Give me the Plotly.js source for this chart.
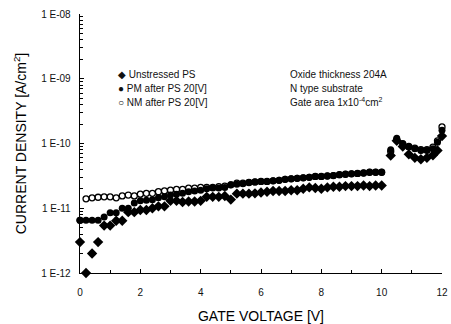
<!DOCTYPE html>
<html>
<head>
<meta charset="utf-8">
<script src="https://cdn.plot.ly/plotly-3.0.1.min.js"></script>
<style>html,body{margin:0;padding:0;background:#fff;}#chart{width:451px;height:324px;}</style>
</head>
<body>
<div id="chart"></div>
<script>
// Gate voltage steps (V)
var voltageLow = [0,0.2,0.4,0.6,0.8,1.0,1.2,1.4,1.6,1.8,2.0,2.2,2.4,2.6,2.8,3.0,3.2,3.4,3.6,3.8,4.0,4.2,4.4,4.6,4.8,5.0,5.2,5.4,5.6,5.8,6.0,6.2,6.4,6.6,6.8,7.0,7.2,7.4,7.6,7.8,8.0,8.2,8.4,8.6,8.8,9.0,9.2,9.4,9.6,9.8,10.0];
var voltageHigh = [10.3,10.5,10.7,10.9,11.1,11.3,11.5,11.7,11.85,12.0];

// Current density (A/cm^2)
var unstressedLow = [3.0e-12,1.0e-12,2.0e-12,3.0e-12,5.4e-12,5.4e-12,6.4e-12,6.4e-12,8.7e-12,8.7e-12,9.4e-12,9.4e-12,1.0e-11,1.07e-11,1.07e-11,1.3e-11,1.3e-11,1.25e-11,1.27e-11,1.27e-11,1.3e-11,1.5e-11,1.5e-11,1.5e-11,1.55e-11,1.36e-11,1.68e-11,1.68e-11,1.68e-11,1.7e-11,1.75e-11,1.8e-11,1.85e-11,1.85e-11,1.85e-11,1.9e-11,1.9e-11,2.0e-11,2.1e-11,2.05e-11,2.0e-11,2.1e-11,2.15e-11,2.15e-11,2.2e-11,2.2e-11,2.2e-11,2.25e-11,2.2e-11,2.25e-11,2.25e-11];
var unstressedHigh = [6.5e-11,1.1e-10,9.0e-11,6.8e-11,6.0e-11,5.7e-11,6.0e-11,6.6e-11,7.8e-11,1.3e-10];

var pmLow = [6.5e-12,6.5e-12,6.5e-12,6.5e-12,7.3e-12,8.5e-12,8.5e-12,1.0e-11,1.0e-11,1.2e-11,1.3e-11,1.33e-11,1.35e-11,1.45e-11,1.5e-11,1.6e-11,1.65e-11,1.7e-11,1.8e-11,1.85e-11,1.9e-11,2.0e-11,2.05e-11,2.05e-11,2.1e-11,2.3e-11,2.35e-11,2.4e-11,2.5e-11,2.55e-11,2.6e-11,2.6e-11,2.65e-11,2.7e-11,2.8e-11,2.85e-11,2.9e-11,2.95e-11,3.0e-11,3.1e-11,3.1e-11,3.15e-11,3.2e-11,3.3e-11,3.35e-11,3.4e-11,3.45e-11,3.5e-11,3.6e-11,3.6e-11,3.6e-11];
var pmHigh = [8.0e-11,1.2e-10,1.0e-10,8.8e-11,8.3e-11,7.8e-11,7.8e-11,8.3e-11,1.05e-10,1.6e-10];

var nmLow = [6.5e-12,1.4e-11,1.45e-11,1.48e-11,1.5e-11,1.5e-11,1.45e-11,1.55e-11,1.6e-11,1.55e-11,1.65e-11,1.7e-11,1.7e-11,1.8e-11,1.85e-11,1.9e-11,1.95e-11,1.95e-11,2.05e-11,2.05e-11,2.1e-11,2.1e-11,2.1e-11,2.15e-11,2.2e-11,2.3e-11,2.45e-11,2.45e-11,2.5e-11,2.55e-11,2.6e-11,2.6e-11,2.65e-11,2.7e-11,2.8e-11,2.85e-11,2.9e-11,2.95e-11,3.0e-11,3.1e-11,3.1e-11,3.15e-11,3.2e-11,3.3e-11,3.35e-11,3.4e-11,3.45e-11,3.5e-11,3.6e-11,3.6e-11,3.6e-11];
var nmHigh = [7.5e-11,1.15e-10,9.8e-11,9.0e-11,8.5e-11,8.0e-11,8.0e-11,8.8e-11,1.1e-10,1.8e-10];

var yTickVals = [1e-12,1e-11,1e-10,1e-9,1e-8];
var yTickText = ['1 E-12','1 E-11','1 E-10','1 E-09','1 E-08'];
var xTickVals = [0,2,4,6,8,10,12];

var seriesNames = ['Unstressed PS','PM after PS 20[V]','NM after PS 20[V]'];

var FONT = 'Liberation Sans, Arial, sans-serif';

var traces = [
  {x: voltageLow.concat(voltageHigh), y: nmLow.concat(nmHigh), name: seriesNames[2], mode:'markers', type:'scatter',
   marker:{symbol:'circle-open', size:6, color:'#000', line:{width:1.3, color:'#000'}}, cliponaxis:false},
  {x: voltageLow.concat(voltageHigh), y: pmLow.concat(pmHigh), name: seriesNames[1], mode:'markers', type:'scatter',
   marker:{symbol:'circle', size:7, color:'#000'}, cliponaxis:false},
  {x: voltageLow.concat(voltageHigh), y: unstressedLow.concat(unstressedHigh), name: seriesNames[0], mode:'markers', type:'scatter',
   marker:{symbol:'diamond', size:8, color:'#000'}, cliponaxis:false}
];

var legendFont = {family: FONT, size: 10, color:'#111'};
var annotations = [
  {xref:'paper', yref:'paper', x:0.1, y:0.765, xanchor:'left', yanchor:'middle', showarrow:false, text:'\u25C6 ' + seriesNames[0], font:legendFont},
  {xref:'paper', yref:'paper', x:0.1, y:0.713, xanchor:'left', yanchor:'middle', showarrow:false, text:'\u25CF ' + seriesNames[1], font:legendFont},
  {xref:'paper', yref:'paper', x:0.1, y:0.66, xanchor:'left', yanchor:'middle', showarrow:false, text:'\u25CB ' + seriesNames[2], font:legendFont},
  {xref:'paper', yref:'paper', x:0.575, y:0.765, xanchor:'left', yanchor:'middle', showarrow:false, text:'Oxide thickness 204A', font:legendFont},
  {xref:'paper', yref:'paper', x:0.575, y:0.713, xanchor:'left', yanchor:'middle', showarrow:false, text:'N type substrate', font:legendFont},
  {xref:'paper', yref:'paper', x:0.575, y:0.66, xanchor:'left', yanchor:'middle', showarrow:false, text:'Gate area 1x10<sup>-4</sup>cm<sup>2</sup>', font:legendFont}
];

var layout = {
  width:451, height:324,
  margin:{l:80, r:9, t:14, b:51},
  paper_bgcolor:'#fff', plot_bgcolor:'#fff',
  showlegend:false,
  font:{family:FONT, color:'#111'},
  xaxis:{
    range:[0,12], tickvals:xTickVals, ticks:'inside', ticklen:4, tickcolor:'#000',
    showline:true, linecolor:'#000', linewidth:1.3, showgrid:false, zeroline:false,
    tickfont:{family:FONT, size:10, color:'#111'}, ticklabelstandoff:10,
    minor:{ticks:'inside', ticklen:3, dtick:1, tickcolor:'#000', showgrid:false},
    title:{text:'GATE VOLTAGE [V]', font:{family:FONT, size:14, color:'#000'}, standoff:14}
  },
  yaxis:{
    type:'log', range:[-12,-8], tickvals:yTickVals, ticktext:yTickText, ticks:'inside', ticklen:4, tickcolor:'#000',
    showline:true, linecolor:'#000', linewidth:1.3, showgrid:false, zeroline:false,
    tickfont:{family:FONT, size:10, color:'#111'}, ticklabelstandoff:6,
    minor:{ticks:'inside', ticklen:3, dtick:'D1', tickcolor:'#000', showgrid:false},
    title:{text:'CURRENT DENSITY [A/cm<sup>2</sup>]', font:{family:FONT, size:14, color:'#000'}, standoff:11}
  },
  annotations: annotations
};

Plotly.newPlot('chart', traces, layout, {staticPlot:true, displayModeBar:false});
</script>
</body>
</html>
